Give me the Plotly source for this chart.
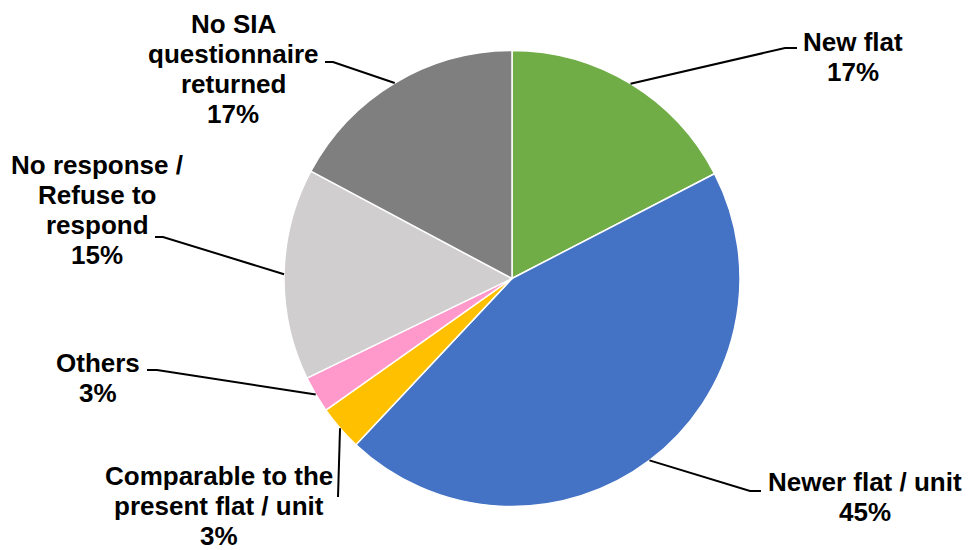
import math
import plotly.graph_objects as go

# Responses on the preferred type of rehousing
categories = [
    "New flat",
    "Newer flat / unit",
    "Comparable to the present flat / unit",
    "Others",
    "No response / Refuse to respond",
    "No SIA questionnaire returned",
]
shares = [17.4, 44.6, 3.2, 2.6, 15.0, 17.2]
colors = ["#70AD47", "#4472C4", "#FFC000", "#FF99CC", "#D0CECE", "#7F7F7F"]

# How each category name wraps in its outside label
label_lines = [
    ["New flat"],
    ["Newer flat / unit"],
    ["Comparable to the", "present flat / unit"],
    ["Others"],
    ["No response /", "Refuse to", "respond"],
    ["No SIA", "questionnaire", "returned"],
]

W, H = 968, 550
CX, CY, R = 512, 278.5, 228          # pie centre and radius in pixels
LINE_GAP = 30                        # spacing between label lines
FONT = dict(family="Liberation Sans, Arial, sans-serif", size=26, color="#000000", weight="bold")

# Label placement: text centre x, first line centre y, leader elbow, tail end x
placement = [
    dict(cx=853, cy=42, elbow=(785, 48), tail=797),
    dict(cx=865, cy=482, elbow=(750, 491), tail=761),
    dict(cx=219, cy=476, elbow=(338, 497), tail=338),
    dict(cx=98, cy=363, elbow=(157, 370), tail=147),
    dict(cx=97, cy=165, elbow=(163, 237), tail=155),
    dict(cx=233, cy=24, elbow=(333, 62), tail=325),
]


def px(x):
    return x / W


def py(y):
    return 1 - y / H


fig = go.Figure(
    go.Pie(
        labels=categories,
        values=shares,
        sort=False,
        direction="clockwise",
        rotation=0,
        textinfo="none",
        hoverinfo="label+percent",
        marker=dict(colors=colors, line=dict(color="#FFFFFF", width=1.5)),
        domain=dict(x=[px(CX - R), px(CX + R)], y=[py(CY + R), py(CY - R)]),
        showlegend=False,
    )
)

total = sum(shares)
cum = 0.0
annotations = []
shapes = []
for name_lines, share, place in zip(label_lines, shares, placement):
    mid = (cum + share / 2) / total * 2 * math.pi
    cum += share
    # leader line from the slice edge at its mid-angle to the label
    sx = CX + R * math.sin(mid)
    sy = CY - R * math.cos(mid)
    ex, ey = place["elbow"]
    path = f"M {px(sx)} {py(sy)} L {px(ex)} {py(ey)} L {px(place['tail'])} {py(ey)}"
    shapes.append(dict(type="path", xref="paper", yref="paper", path=path,
                       line=dict(color="#000000", width=2)))
    pct = f"{round(share / total * 100)}%"
    for i, text in enumerate(name_lines + [pct]):
        annotations.append(dict(
            x=px(place["cx"]), y=py(place["cy"] + i * LINE_GAP),
            xref="paper", yref="paper", text=text, showarrow=False,
            xanchor="center", yanchor="middle", font=FONT,
        ))

fig.update_layout(
    width=W, height=H,
    margin=dict(l=0, r=0, t=0, b=0),
    paper_bgcolor="#FFFFFF",
    plot_bgcolor="#FFFFFF",
    annotations=annotations,
    shapes=shapes,
)

fig.write_html("out.html")
